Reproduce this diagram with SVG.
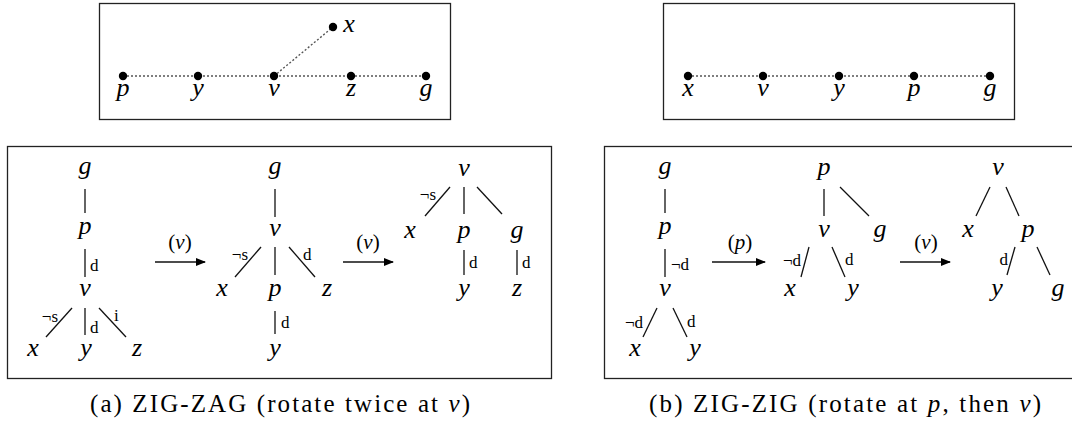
<svg xmlns="http://www.w3.org/2000/svg" width="1072" height="427" viewBox="0 0 1072 427">
<style>
.frame{fill:none;stroke:#222;stroke-width:1.3}
.dot{fill:#000}
.dl{stroke:#555;stroke-width:1.4;stroke-dasharray:2 2;fill:none}
.e{stroke:#111;stroke-width:1.3;fill:none}
.arr{stroke:#111;stroke-width:1.3;fill:none;marker-end:url(#ah)}
text{font-family:'Liberation Serif','Times New Roman',Times,serif}
.m{font-style:italic;font-size:26px;text-anchor:middle;fill:#000}
.s{font-size:17px;fill:#000}
.sr{font-size:17px;fill:#000;text-anchor:end}
.al{font-size:21px;text-anchor:middle;fill:#000}
.cap{font-size:25px;fill:#000}
.i{font-style:italic}
</style>
<defs>
<marker id="ah" markerWidth="10" markerHeight="8" refX="9" refY="4" orient="auto" markerUnits="userSpaceOnUse">
<path d="M0,0 L10,4 L0,8 z" fill="#000"/>
</marker>
</defs>

<g id="frames">
<rect class="frame" x="99.5" y="3.5" width="351" height="116"/>
<rect class="frame" x="663.5" y="3.5" width="351" height="116"/>
<rect class="frame" x="7.5" y="146.5" width="544" height="232"/>
<rect class="frame" x="604.5" y="146.5" width="470" height="232"/>
</g>

<g id="connectors">
<line class="dl" x1="123" y1="76" x2="426" y2="76"/>
<line class="dl" x1="274" y1="76" x2="333" y2="27"/>
<line class="dl" x1="688" y1="76" x2="990" y2="76"/>

<line class="e" x1="85" y1="189" x2="85" y2="213"/>
<line class="e" x1="85" y1="249" x2="85" y2="277"/>
<text class="s" x="90" y="271">d</text>
<line class="e" x1="72" y1="308" x2="46" y2="337"/>
<text class="sr" x="58" y="322">¬s</text>
<line class="e" x1="85" y1="308" x2="85" y2="335"/>
<text class="s" x="90" y="333">d</text>
<line class="e" x1="99" y1="308" x2="126" y2="337"/>
<text class="s" x="114" y="321">i</text>

<line class="arr" x1="155" y1="262" x2="205" y2="262"/>
<text class="al" x="180" y="249">(<tspan class="i">v</tspan>)</text>

<line class="e" x1="275" y1="189" x2="275" y2="217"/>
<line class="e" x1="261" y1="247" x2="235" y2="277"/>
<text class="sr" x="248" y="260">¬s</text>
<line class="e" x1="275" y1="247" x2="275" y2="275"/>
<line class="e" x1="289" y1="247" x2="315" y2="277"/>
<text class="s" x="303" y="260">d</text>
<line class="e" x1="275" y1="311" x2="275" y2="334"/>
<text class="s" x="281" y="328">d</text>

<line class="arr" x1="343" y1="262" x2="393" y2="262"/>
<text class="al" x="368" y="249">(<tspan class="i">v</tspan>)</text>

<line class="e" x1="450" y1="187" x2="425" y2="216"/>
<text class="sr" x="436" y="200">¬s</text>
<line class="e" x1="464" y1="187" x2="464" y2="214"/>
<line class="e" x1="477" y1="187" x2="502" y2="214"/>
<line class="e" x1="464" y1="250" x2="464" y2="275"/>
<text class="s" x="469" y="268">d</text>
<line class="e" x1="517" y1="250" x2="517" y2="275"/>
<text class="s" x="522" y="268">d</text>

<line class="e" x1="665" y1="189" x2="665" y2="213"/>
<line class="e" x1="665" y1="249" x2="665" y2="277"/>
<text class="s" x="671" y="270">¬d</text>
<line class="e" x1="657" y1="308" x2="643" y2="337"/>
<text class="sr" x="643" y="328">¬d</text>
<line class="e" x1="673" y1="308" x2="687" y2="337"/>
<text class="s" x="687" y="327">d</text>

<line class="arr" x1="712" y1="262" x2="765" y2="262"/>
<text class="al" x="740" y="249">(<tspan class="i">p</tspan>)</text>

<line class="e" x1="824" y1="189" x2="824" y2="216"/>
<line class="e" x1="840" y1="187" x2="869" y2="216"/>
<line class="e" x1="809" y1="247" x2="801" y2="277"/>
<text class="sr" x="801" y="266">¬d</text>
<line class="e" x1="832" y1="247" x2="845" y2="277"/>
<text class="s" x="845" y="265">d</text>

<line class="arr" x1="900" y1="262" x2="950" y2="262"/>
<text class="al" x="926" y="249">(<tspan class="i">v</tspan>)</text>

<line class="e" x1="990" y1="187" x2="976" y2="216"/>
<line class="e" x1="1006" y1="187" x2="1019" y2="216"/>
<line class="e" x1="1015" y1="247" x2="1007" y2="275"/>
<text class="sr" x="1008" y="265">d</text>
<line class="e" x1="1037" y1="247" x2="1050" y2="275"/>
</g>

<g id="tl-p"><circle class="dot" cx="123" cy="76" r="4.2"/><text class="m" x="123" y="96">p</text></g>
<g id="tl-y"><circle class="dot" cx="198" cy="76" r="4.2"/><text class="m" x="198" y="96">y</text></g>
<g id="tl-v"><circle class="dot" cx="274" cy="76" r="4.2"/><text class="m" x="274" y="96">v</text></g>
<g id="tl-z"><circle class="dot" cx="351" cy="76" r="4.2"/><text class="m" x="351" y="96">z</text></g>
<g id="tl-g"><circle class="dot" cx="426" cy="76" r="4.2"/><text class="m" x="426" y="96">g</text></g>
<g id="tl-x"><circle class="dot" cx="333" cy="27" r="4.2"/><text class="m" x="349" y="32">x</text></g>

<g id="tr-x"><circle class="dot" cx="688" cy="76" r="4.2"/><text class="m" x="688" y="96">x</text></g>
<g id="tr-v"><circle class="dot" cx="763" cy="76" r="4.2"/><text class="m" x="763" y="96">v</text></g>
<g id="tr-y"><circle class="dot" cx="839" cy="76" r="4.2"/><text class="m" x="839" y="96">y</text></g>
<g id="tr-p"><circle class="dot" cx="914" cy="76" r="4.2"/><text class="m" x="914" y="96">p</text></g>
<g id="tr-g"><circle class="dot" cx="990" cy="76" r="4.2"/><text class="m" x="990" y="96">g</text></g>

<g id="a1-g"><text class="m" x="85" y="174">g</text></g>
<g id="a1-p"><text class="m" x="85" y="234">p</text></g>
<g id="a1-v"><text class="m" x="85" y="296">v</text></g>
<g id="a1-x"><text class="m" x="33" y="356">x</text></g>
<g id="a1-y"><text class="m" x="86" y="356">y</text></g>
<g id="a1-z"><text class="m" x="137" y="356">z</text></g>

<g id="a2-g"><text class="m" x="275" y="174">g</text></g>
<g id="a2-v"><text class="m" x="275" y="236">v</text></g>
<g id="a2-x"><text class="m" x="222" y="296">x</text></g>
<g id="a2-p"><text class="m" x="275" y="296">p</text></g>
<g id="a2-z"><text class="m" x="327" y="296">z</text></g>
<g id="a2-y"><text class="m" x="275" y="356">y</text></g>

<g id="a3-v"><text class="m" x="464" y="176">v</text></g>
<g id="a3-x"><text class="m" x="410" y="238">x</text></g>
<g id="a3-p"><text class="m" x="464" y="238">p</text></g>
<g id="a3-g"><text class="m" x="517" y="238">g</text></g>
<g id="a3-y"><text class="m" x="464" y="296">y</text></g>
<g id="a3-z"><text class="m" x="517" y="296">z</text></g>

<g id="b1-g"><text class="m" x="665" y="174">g</text></g>
<g id="b1-p"><text class="m" x="665" y="234">p</text></g>
<g id="b1-v"><text class="m" x="665" y="296">v</text></g>
<g id="b1-x"><text class="m" x="635" y="356">x</text></g>
<g id="b1-y"><text class="m" x="695" y="356">y</text></g>

<g id="b2-p"><text class="m" x="824" y="175">p</text></g>
<g id="b2-v"><text class="m" x="824" y="237">v</text></g>
<g id="b2-g"><text class="m" x="880" y="237">g</text></g>
<g id="b2-x"><text class="m" x="790" y="296">x</text></g>
<g id="b2-y"><text class="m" x="853" y="296">y</text></g>

<g id="b3-v"><text class="m" x="998" y="175">v</text></g>
<g id="b3-x"><text class="m" x="968" y="237">x</text></g>
<g id="b3-p"><text class="m" x="1028" y="237">p</text></g>
<g id="b3-y"><text class="m" x="997" y="296">y</text></g>
<g id="b3-g"><text class="m" x="1058" y="296">g</text></g>

<g id="captions">
<text class="cap" x="90" y="412" textLength="380" lengthAdjust="spacing">(a) ZIG-ZAG (rotate twice at <tspan class="i">v</tspan>)</text>
<text class="cap" x="649" y="412" textLength="392" lengthAdjust="spacing">(b) ZIG-ZIG (rotate at <tspan class="i">p</tspan>, then <tspan class="i">v</tspan>)</text>
</g>
</svg>
